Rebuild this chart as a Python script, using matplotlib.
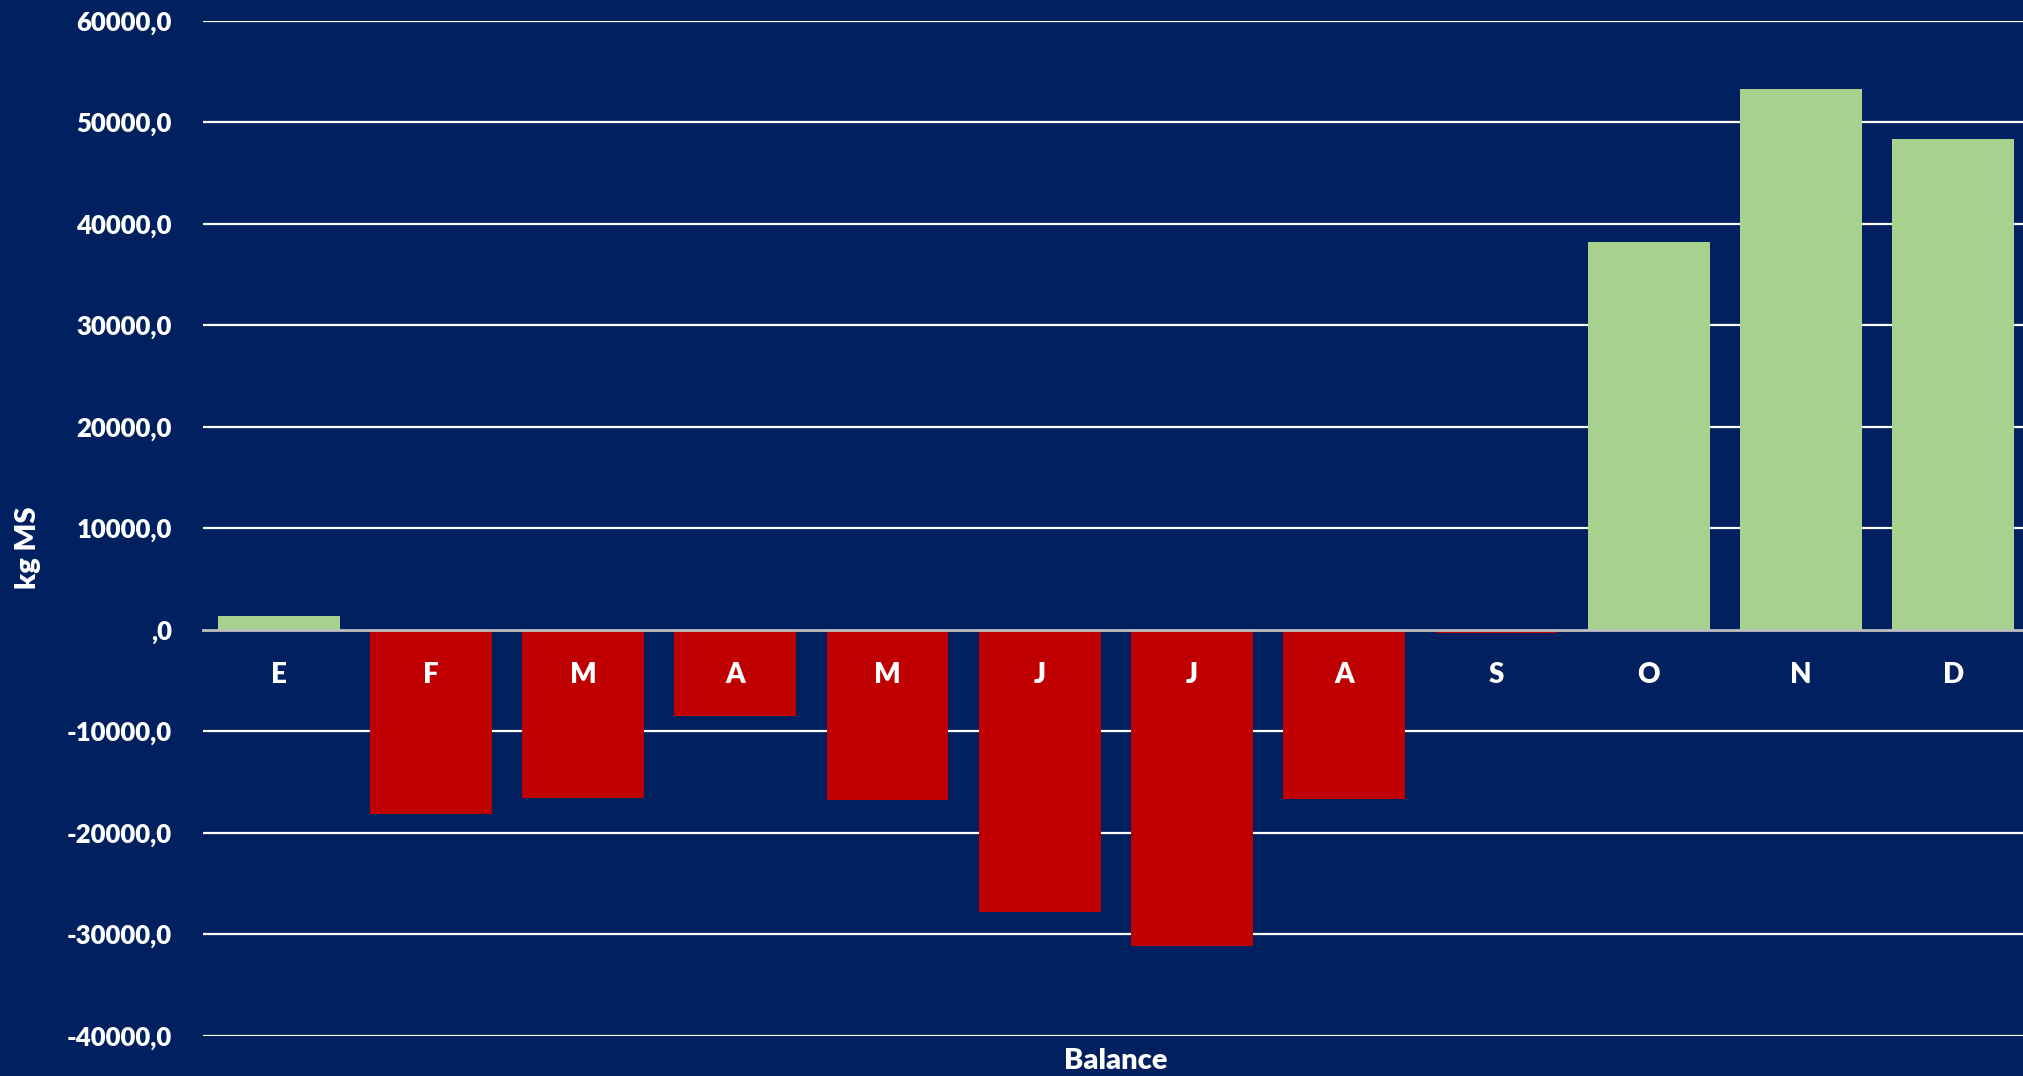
import matplotlib
matplotlib.use("Agg")
import matplotlib.pyplot as plt
from matplotlib.ticker import FixedLocator, FixedFormatter

months = ["E", "F", "M", "A", "M", "J", "J", "A", "S", "O", "N", "D"]
balance = [1350, -18200, -16540, -8540, -16790, -27870, -31170, -16670, -300, 38150, 53300, 48350]
y_ticks = [-40000, -30000, -20000, -10000, 0, 10000, 20000, 30000, 40000, 50000, 60000]
y_tick_labels = ["-40000,0", "-30000,0", "-20000,0", "-10000,0", ",0", "10000,0",
                 "20000,0", "30000,0", "40000,0", "50000,0", "60000,0"]

NAVY = "#002060"
GREEN = "#A9D18E"
RED = "#C00000"

plt.rcParams["font.family"] = ["Lato", "DejaVu Sans"]
plt.rcParams["font.weight"] = "bold"

fig = plt.figure(figsize=(20.23, 10.76), dpi=100, facecolor=NAVY)
ax = fig.add_axes([0.1001, 0.03755, 0.903, 0.9432], facecolor=NAVY)

x = range(len(months))
colors = [GREEN if v >= 0 else RED for v in balance]
ax.bar(x, balance, width=0.8, color=colors, zorder=1)

ax.set_xlim(-0.5, len(months) - 0.5)
ax.set_ylim(-40000, 60000)

# gridlines behind the bars, drawn separately so the axis labels stay on top
for t in y_ticks:
    if t != 0:
        ax.axhline(t, color="white", linewidth=1.6, zorder=0.5)

for side in ["top", "right", "left"]:
    ax.spines[side].set_visible(False)
ax.spines["bottom"].set_position(("data", 0))
ax.spines["bottom"].set_color("#BFBFBF")
ax.spines["bottom"].set_linewidth(2)
ax.spines["bottom"].set_zorder(3)

ax.set_xticks(list(x))
ax.set_xticklabels(months)
ax.yaxis.set_major_locator(FixedLocator(y_ticks))
ax.yaxis.set_major_formatter(FixedFormatter(y_tick_labels))

ax.tick_params(axis="x", length=0, pad=23, labelsize=20, labelcolor="white")
ax.tick_params(axis="y", length=0, pad=22, labelsize=18.5, labelcolor="white")
for lbl in ax.get_xticklabels() + ax.get_yticklabels():
    lbl.set_fontweight("heavy")

ax.set_xlabel("Balance", fontsize=21, fontweight="heavy", color="white")
ax.xaxis.set_label_coords(0.5, -0.0125)
ax.set_ylabel("kg MS", fontsize=21, fontweight="heavy", color="white", va="center")
ax.yaxis.set_label_coords(-0.0955, 0.4804)

fig.savefig("out.png", dpi=100, facecolor=NAVY)
plt.close(fig)
